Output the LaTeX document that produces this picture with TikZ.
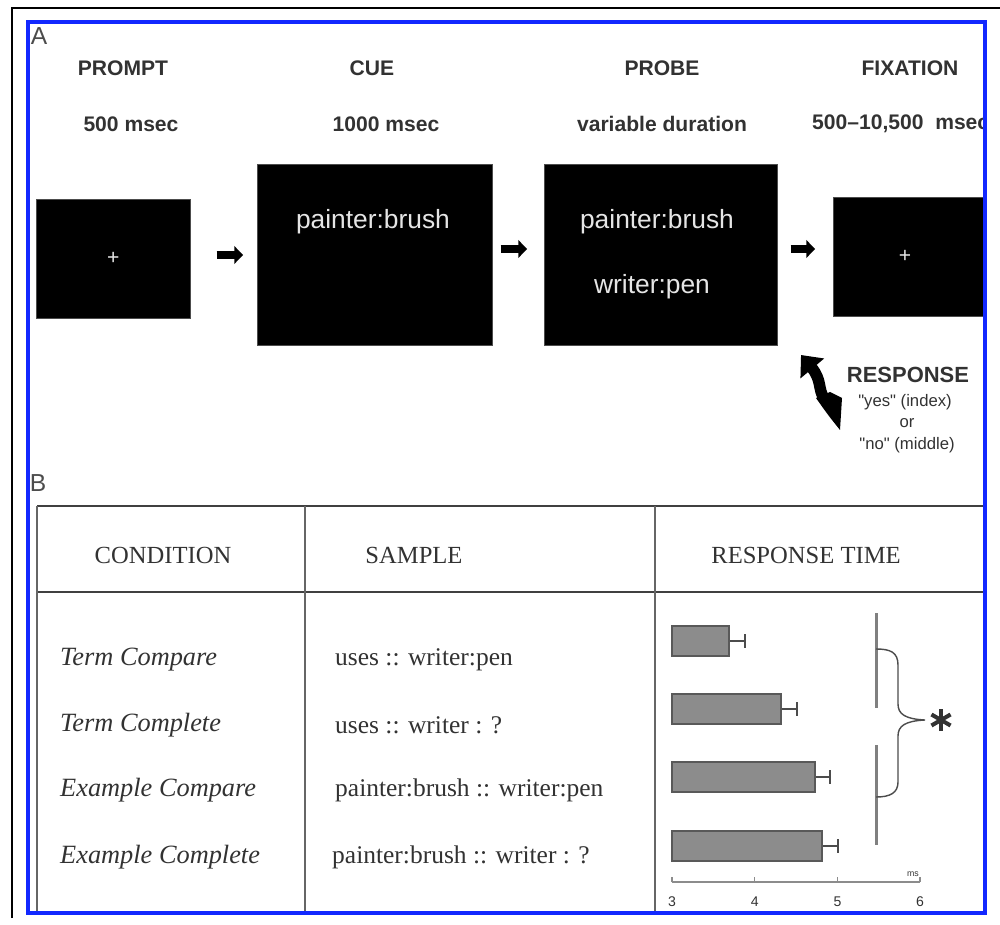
\documentclass[tikz,border=0pt]{standalone}
\usepackage{fontspec}
\setmainfont{Liberation Serif}
\newfontfamily\arialfont{Liberation Sans}
\usetikzlibrary{arrows.meta,positioning}
\definecolor{frameblue}{RGB}{18,40,255}
\definecolor{inkgray}{RGB}{50,50,50}
\definecolor{barfill}{RGB}{140,140,140}

\begin{document}
\begin{tikzpicture}[x=0.02cm,y=-0.02cm,
  screen/.style={fill=black,draw=black!70,inner sep=0pt,anchor=north west},
  stage/.style={font=\arialfont\bfseries\fontsize{12}{14}\selectfont,text=inkgray},
  screentext/.style={font=\arialfont\fontsize{15}{18}\selectfont,text=white!90!black},
  nextarrow/.style={line width=5pt,-{Triangle[length=5pt,width=10pt]}},
  replytext/.style={font=\arialfont\fontsize{9.5}{11}\selectfont,text=inkgray},
  colhead/.style={font=\fontsize{14}{16}\selectfont,text=inkgray},
  cond/.style={font=\itshape\fontsize{15}{18}\selectfont,text=inkgray,anchor=west},
  sample/.style={font=\fontsize{14.5}{17}\selectfont,text=inkgray,anchor=west},
  tabrule/.style={draw=black!75,line width=1.3pt},
  tabcol/.style={draw=black!60,line width=0.8pt},
  bar/.style={fill=barfill,draw=black!65,line width=1pt},
  errbar/.style={draw=black!70,line width=1pt},
  ticklabel/.style={font=\arialfont\fontsize{8}{9}\selectfont,text=inkgray}]
  \useasboundingbox (0,0) rectangle (1000,925);

  % outer black frame
  \draw[line width=1.3pt] (12,918) -- (12,8) -- (1000,8);

  \begin{scope}
  \clip (28,22) rectangle (985,913);

  % panel A
  \node[font=\arialfont\fontsize{14}{14}\selectfont,text=black!70] (lblA) at (39,36) {A};

  \node[stage] (hPrompt) at (123,68) {PROMPT};
  \node[stage] (hCue) at (372,68) {CUE};
  \node[stage] (hProbe) at (662,68) {PROBE};
  \node[stage] (hFix) at (910,68) {FIXATION};

  \node[stage] (tPrompt) at (131,124) {500 msec};
  \node[stage] (tCue) at (386,124) {1000 msec};
  \node[stage] (tProbe) at (662,124) {variable duration};
  \node[stage,anchor=west] (tFix) at (806,124) {500–10,500\ \ msec};

  \node[screen,minimum width=3.08cm,minimum height=2.38cm] (prompt) at (36,199) {};
  \node[screen,minimum width=4.7cm,minimum height=3.62cm] (cue) at (257,164) {};
  \node[screen,minimum width=4.66cm,minimum height=3.62cm] (probe) at (544,164) {};
  \node[screen,minimum width=3.08cm,minimum height=2.38cm] (fix) at (833,197) {};

  \node[screentext,font=\arialfont\fontsize{12}{12}\selectfont] (plus1) at (prompt.center) {+};
  \node[screentext] (cueword) at (373,222) {painter:brush};
  \node[screentext] (probeword1) at (657,222) {painter:brush};
  \node[screentext] (probeword2) at (652,287) {writer:pen};
  \node[screentext,font=\arialfont\fontsize{12}{12}\selectfont] (plus2) at (905,256) {+};

  \draw[nextarrow,shorten <=26pt*0.567,shorten >=14pt*0.567]
    (prompt.east |- 0,255) -- (cue.west |- 0,255);
  \draw[nextarrow,shorten <=8pt*0.567,shorten >=17pt*0.567]
    (cue.east |- 0,249) -- (probe.west |- 0,249);
  \draw[nextarrow,shorten <=13pt*0.567,shorten >=18pt*0.567]
    (probe.east |- 0,249) -- (fix.west |- 0,249);

  % response
  \node[stage,font=\arialfont\bfseries\fontsize{12.5}{14}\selectfont] (resp) at (908,375) {RESPONSE};
  \node[replytext] (yes) at (905,402) {"yes" (index)};
  \node[replytext] (or) at (907,423) {or};
  \node[replytext] (no) at (907,445) {"no" (middle)};
  \coordinate (rtail) at (840,430);
  \coordinate (rhead) at (801,355);
  \fill (rtail) .. controls (828,415) .. (816,398) -- (830,392) .. controls (838,396) .. (842,398) -- cycle;
  \draw[line width=6.5pt,-{Triangle[length=10pt,width=17pt]}]
    (824,398) .. controls (818,390) and (822,380) .. (rhead);

  % panel B
  \node[font=\arialfont\fontsize{14}{14}\selectfont,text=black!70] (lblB) at (38,483) {B};

  \draw[tabrule] (37,506) -- (990,506);
  \draw[tabrule] (37,592) -- (990,592);
  \foreach \cx in {37,305,655}
    \draw[tabcol] (\cx,506) -- (\cx,920);

  \node[colhead] (hCond) at (163,555) {CONDITION};
  \node[colhead] (hSample) at (414,555) {SAMPLE};
  \node[colhead] (hTime) at (806,555) {RESPONSE TIME};

  \node[cond] (c1) at (54,660) {Term Compare};
  \node[cond] (c2) at (54,725) {Term Complete};
  \node[cond] (c3) at (54,790) {Example Compare};
  \node[cond] (c4) at (54,857) {Example Complete};

  \node[sample] (s1) at (329,660) {uses :: writer:pen};
  \node[sample] (s2) at (329,725) {uses :: writer : ?};
  \node[sample] (s3) at (329,790) {painter:brush :: writer:pen};
  \node[sample] (s4) at (326,857) {painter:brush :: writer : ?};

  % bars, 3..6 on 672..920
  \foreach \yy/\v/\e in {641/3.69/3.88,709/4.32/4.51,777/4.73/4.91,846/4.81/5.01} {
    \draw[errbar] (672,\yy) -- ({672+(\e-3)*82.7},\yy) ++(0,-7) -- ++(0,14);
    \draw[bar] (672,{\yy-15}) rectangle ({672+(\v-3)*82.7},{\yy+15});
  }
  \draw[draw=black!45,line width=1pt] (672,882) -- (920,882);
  \foreach \t in {3,...,6} {
    \draw[draw=black!45,line width=0.8pt] ({672+(\t-3)*82.7},882) -- ({672+(\t-3)*82.7},877);
    \node[ticklabel] (t\t) at ({672+(\t-3)*82.7},902) {\t};
  }
  \node[ticklabel,font=\arialfont\fontsize{5}{5}\selectfont] (unit) at (913,874) {ms};

  \draw[draw=black!50,line width=1.7pt] (876,613) -- (876,708);
  \draw[draw=black!50,line width=1.7pt] (876,745) -- (876,845);
  \draw[draw=black!70,line width=0.8pt]
    (876,649) .. controls (890,649) and (898,652) .. (898,665) -- (898,704)
    .. controls (898,714) and (905,719) .. (925,720)
    .. controls (905,721) and (898,726) .. (898,736) -- (898,782)
    .. controls (898,793) and (890,797) .. (876,797);
  \node[inner sep=0pt,minimum size=0.44cm] (star) at (941,720) {};
  \foreach \a in {90,150,210}
    \draw[draw=black!80,line width=2.3pt] (star.center) ++(\a:11) -- ++(\a+180:22);
  \end{scope}

  % blue frame
  \draw[draw=frameblue,line width=2.8pt] (28,22) rectangle (985,913);
\end{tikzpicture}
\end{document}
